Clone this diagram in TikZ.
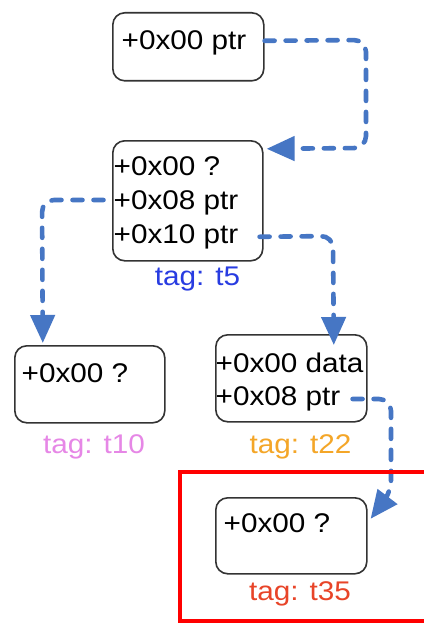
\documentclass[tikz,border=0pt]{standalone}
\usepackage{fontspec}
\setmainfont{Liberation Sans}[FakeStretch=1.1]
\usetikzlibrary{arrows.meta}
\definecolor{lineblue}{RGB}{70,118,196}
\definecolor{boxgray}{RGB}{51,51,51}
\definecolor{tagblue}{RGB}{40,60,225}
\definecolor{tagpink}{RGB}{230,135,230}
\definecolor{tagorange}{RGB}{244,166,40}
\definecolor{tagred}{RGB}{232,68,40}
\definecolor{hlred}{RGB}{255,0,0}
\begin{document}
\begin{tikzpicture}[x=1pt,y=-1pt,
  box/.style={draw=boxgray, line width=1.6pt, rounded corners=12pt, anchor=north west, inner sep=0pt, fill=white},
  field/.style={anchor=base west, inner sep=0pt, font=\fontsize{27}{32}\selectfont, text=black},
  tag/.style={anchor=base, inner sep=0pt, font=\fontsize{27}{32}\selectfont},
  conn/.style={draw=lineblue, line width=4.6pt, dash pattern=on 10pt off 11pt, line cap=round, rounded corners=12pt,
    -{Triangle[length=28pt,width=24pt]}}]
\useasboundingbox (0,0) rectangle (423,623);
\fill[white] (0,0) rectangle (423,623);

% boxes
\node[box, minimum width=151pt, minimum height=68pt] (A) at (112,12) {};
\node[box, minimum width=150pt, minimum height=120pt] (B) at (112,140) {};
\node[box, minimum width=150pt, minimum height=77pt] (C) at (14,345) {};
\node[box, minimum width=151pt, minimum height=87pt] (D) at (215,334) {};
\node[box, minimum width=151pt, minimum height=76pt] (E) at (215,497) {};

% fields
\node[field] (A1) at (121.5,50) {+0x00 ptr};
\node[field] (B1) at (113.5,175) {+0x00 ?};
\node[field] (B2) at (113.5,209) {+0x08 ptr};
\node[field] (B3) at (113.5,243) {+0x10 ptr};
\node[field] (C1) at (21.5,382) {+0x00 ?};
\node[field] (D1) at (215.5,372) {+0x00 data};
\node[field] (D2) at (215.5,405) {+0x08 ptr};
\node[field] (E1) at (223.5,532) {+0x00 ?};

% tags
\node[tag, text=tagblue] (T5) at (197.5,285) {tag: t5};
\node[tag, text=tagpink] (T10) at (94,453) {tag: t10};
\node[tag, text=tagorange] (T22) at (300.5,453) {tag: t22};
\node[tag, text=tagred] (T35) at (300,600) {tag: t35};

% connectors
\draw[conn] ([yshift=6pt]A.east) -- (366,40) -- (366,148) -- ([shift={(3pt,52pt)}]B.east);
\draw[conn] ([shift={(-10pt,9pt)}]B2.base west) -- (42,200) -- ([shift={(-47pt,2pt)}]C.north);
\draw[conn] ([shift={(-4pt,-36pt)}]B.east) -- (333,236) -- ([shift={(42.5pt,-11pt)}]D.north);
\draw[conn] ([shift={(12pt,6pt)}]D2.base east) -- (391,399) -- (391,492) [sharp corners] -- ([shift={(3pt,17pt)}]E.east);

% highlight
\draw[hlred, line width=4pt] (180,472) rectangle (430,621);
\end{tikzpicture}
\end{document}
